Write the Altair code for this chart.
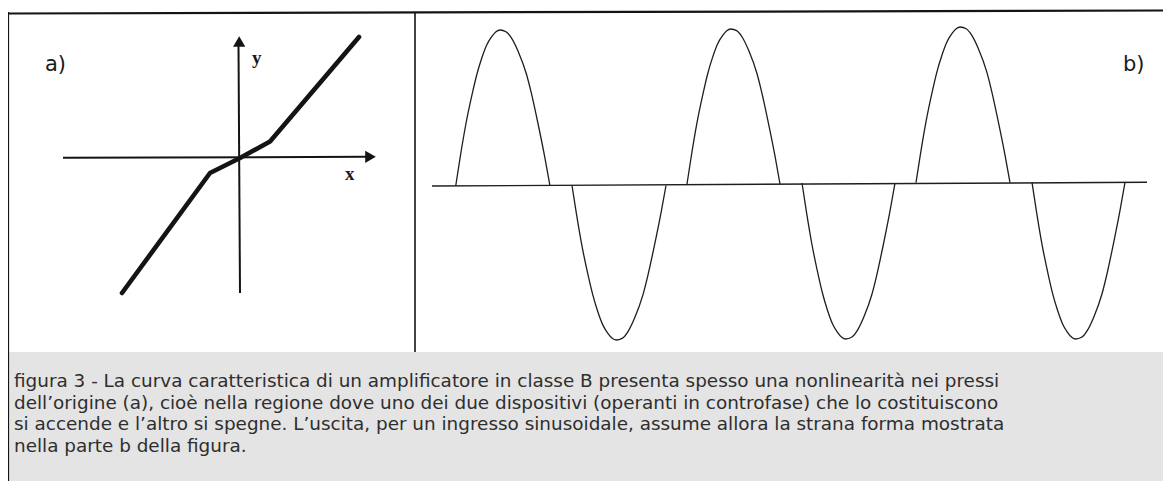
import altair as alt
import pandas as pd

# ---------------- data (page pixel coordinates) -------------
# panel a: transfer characteristic with crossover kink
curve_x = [122, 210, 240, 270, 359]
curve_y = [293, 173, 158, 141.5, 37]

# panel a: axes
yaxis_x = [238.5, 240.0]
yaxis_y = [46, 293]
xaxis_x = [63, 367]
xaxis_y = [157.7, 156.8]
arrow_x = [239.2, 370.5]
arrow_y = [41.5, 156.8]
arrow_shape = ["triangle-up", "triangle-right"]

# panel b: crossover-distorted sine, one hump per half period
hump_start = [455.7, 572, 687, 802, 916, 1032]
hump_end = [550, 666, 780, 895, 1010, 1125]
hump_peak = [30, 340, 29, 339, 27, 339]
hump_base = [186, 185.5, 184, 183, 182.7, 182.3]
# hump profile read from the first hump (offset in px, height in px)
prof_dx = [0, 4.3, 10, 17, 21, 26, 31, 36, 40.3, 44.3, 50.3, 56, 62.6, 71, 75.3, 82.6, 89.3, 94.3]
prof_h = [0, 27.7, 61, 94.3, 111, 127.7, 141, 149.3, 154.3, 156, 154.3, 147.7, 134.3, 111, 94.3, 61, 27.7, 0]
baseline_x = [432, 1147]
baseline_y = [186, 182.3]

# frame
frame_top_x = [7, 1163]
frame_top_y = [13.5, 10.5]
frame_left_x = [8, 8]
frame_left_y = [12, 481]
divider_x = [415, 415]
divider_y = [12, 352]
caption_box = {"x": 9, "x2": 1163, "y": 352, "y2": 481}

caption_lines = [
    "figura 3 - La curva caratteristica di un amplificatore in classe B presenta spesso una nonlinearità nei pressi",
    "dell\u2019origine (a), cioè nella regione dove uno dei due dispositivi (operanti in controfase) che lo costituiscono",
    "si accende e l\u2019altro si spegne. L\u2019uscita, per un ingresso sinusoidale, assume allora la strana forma mostrata",
    "nella parte b della figura.",
]

# ---------------- chart ----------------
W, H = 1155, 473
X = alt.Scale(domain=[8, 8 + W], nice=False, zero=False)
Y = alt.Scale(domain=[8, 8 + H], nice=False, zero=False, reverse=True)


def xy(xf="x", yf="y"):
    return dict(
        x=alt.X(f"{xf}:Q", scale=X, axis=None),
        y=alt.Y(f"{yf}:Q", scale=Y, axis=None),
    )


def seg(xs, ys):
    return pd.DataFrame({"x": xs, "y": ys, "o": range(len(xs))})


ink = "#141414"

box = alt.Chart(pd.DataFrame([caption_box])).mark_rect(color="#e4e4e4").encode(
    x=alt.X("x:Q", scale=X, axis=None), x2="x2:Q",
    y=alt.Y("y:Q", scale=Y, axis=None), y2="y2:Q",
)

frame_layers = []
for xs, ys, w in [(frame_top_x, frame_top_y, 2.2), (frame_left_x, frame_left_y, 2.2),
                  (divider_x, divider_y, 1.6)]:
    frame_layers.append(
        alt.Chart(seg(xs, ys)).mark_line(color=ink, strokeWidth=w).encode(order="o:O", **xy())
    )

axes_layers = []
for xs, ys in [(yaxis_x, yaxis_y), (xaxis_x, xaxis_y)]:
    axes_layers.append(
        alt.Chart(seg(xs, ys)).mark_line(color=ink, strokeWidth=2).encode(order="o:O", **xy())
    )
arrows = alt.Chart(pd.DataFrame({"x": arrow_x, "y": arrow_y, "s": arrow_shape})).mark_point(
    filled=True, color=ink, opacity=1, size=150
).encode(shape=alt.Shape("s:N", scale=None, legend=None), **xy())

curve = alt.Chart(seg(curve_x, curve_y)).mark_line(
    color=ink, strokeWidth=4.6, strokeCap="round", strokeJoin="round"
).encode(order="o:O", **xy())

hmax = max(prof_h)
wmax = prof_dx[-1]
rows = []
for k, (s, e, p, b) in enumerate(zip(hump_start, hump_end, hump_peak, hump_base)):
    for dx, h in zip(prof_dx, prof_h):
        rows.append({"hump": k, "x": s + (e - s) * dx / wmax,
                     "y": b + (p - b) * h / hmax})
waves = alt.Chart(pd.DataFrame(rows)).mark_line(
    color="#1e1e1e", strokeWidth=1.3, interpolate="monotone"
).encode(detail="hump:N", **xy())
baseline = alt.Chart(seg(baseline_x, baseline_y)).mark_line(color="#1e1e1e", strokeWidth=1.4).encode(
    order="o:O", **xy()
)


def label(txt, px, py, size, font="DejaVu Sans", weight="normal", color="#1a1a1a", **kw):
    return alt.Chart(pd.DataFrame({"t": [txt]})).mark_text(
        font=font, fontSize=size, fontWeight=weight, color=color, align="left",
        baseline="alphabetic", **kw
    ).encode(text="t:N", x=alt.value(px - 8), y=alt.value(py - 8))


labels = [
    label("a)", 45, 71, 21),
    label("b)", 1123, 71, 21),
    label("y", 252, 64, 19, font="Liberation Serif", weight="bold"),
    label("x", 345, 180, 19, font="Liberation Serif", weight="bold"),
]
line_baselines = [387, 408.5, 430, 451.5]
for txt, by in zip(caption_lines, line_baselines):
    labels.append(label(txt, 14, by, 18.4, color="#2e2e2e"))

chart = alt.layer(
    box, *frame_layers, *axes_layers, arrows, curve, baseline, waves, *labels
).properties(
    width=W, height=H, padding=0, autosize=alt.AutoSizeParams(type="none"),
    background="white",
).configure_view(stroke=None)

chart.save("out.html", embed_options={"renderer": "svg", "actions": False})
